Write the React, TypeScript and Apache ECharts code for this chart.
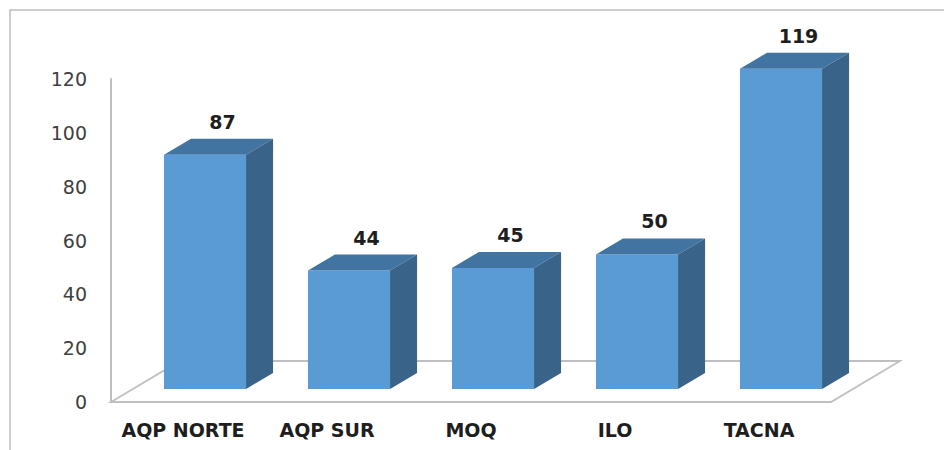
import React, { useEffect, useRef } from "react";
import * as echarts from "echarts";

const categories = ["AQP NORTE", "AQP SUR", "MOQ", "ILO", "TACNA"];
const values = [87, 44, 45, 50, 119];
const yTicks = { min: 0, max: 120, interval: 20 };

const FRONT = "#5B9BD5";
const TOP = "#4274A2";
const SIDE = "#3A6389";
const FLOOR = "#BFBFBF";

// depth geometry (pixels)
const FLOOR_DX = 69;
const FLOOR_DY = -41;
const BAR_SHIFT_X = 22;
const BAR_SHIFT_Y = -13;
const BAR_DX = 27;
const BAR_DY = -16;

export default function App() {
  const ref = useRef<HTMLDivElement>(null);
  useEffect(() => {
    if (!ref.current) return;
    const chart = echarts.init(ref.current, undefined, { renderer: "svg" });
    const option: any = {
      animation: false,
      backgroundColor: "#ffffff",
      graphic: [
        {
          type: "rect",
          shape: { x: 10, y: 10, width: 1000, height: 500 },
          style: { fill: "none", stroke: "#BDBDBD", lineWidth: 1.5 },
          silent: true,
        },
      ],
      grid: { left: 111, right: 113, top: 79, bottom: 48, containLabel: false },
      xAxis: {
        type: "category",
        data: categories,
        axisLine: { show: false },
        axisTick: { show: false },
        axisLabel: {
          interval: 0,
          margin: 18,
          fontFamily: "DejaVu Sans",
          fontWeight: "bold",
          fontSize: 19,
          color: "#1E1E1E",
        },
      },
      yAxis: {
        type: "value",
        min: yTicks.min,
        max: yTicks.max,
        interval: yTicks.interval,
        splitLine: { show: false },
        axisTick: { show: false },
        axisLine: { show: true, lineStyle: { color: FLOOR, width: 2 } },
        axisLabel: {
          margin: 24,
          fontFamily: "DejaVu Sans",
          fontSize: 19,
          color: "#404040",
        },
      },
      series: [
        {
          type: "custom",
          silent: true,
          z: 1,
          data: [[0, 0]],
          encode: { x: 0, y: 1 },
          renderItem: (params: any, api: any) => {
            const bw = api.size([1, 0])[0];
            const a = api.coord([0, 0]);
            const b = api.coord([categories.length - 1, 0]);
            const xl = a[0] - bw / 2;
            const xr = b[0] + bw / 2;
            const y = a[1];
            return {
              type: "polygon",
              shape: {
                points: [
                  [xl, y],
                  [xr, y],
                  [xr + FLOOR_DX, y + FLOOR_DY],
                  [xl + FLOOR_DX, y + FLOOR_DY],
                ],
              },
              style: { fill: "#ffffff", stroke: FLOOR, lineWidth: 1.8 },
            };
          },
        },
        {
          type: "custom",
          z: 2,
          data: values.map((v, i) => [i, v]),
          encode: { x: 0, y: 1 },
          renderItem: (params: any, api: any) => {
            const idx = api.value(0);
            const val = api.value(1);
            const bw = api.size([1, 0])[0];
            const w = bw * 0.57;
            const c0 = api.coord([idx, 0]);
            const c1 = api.coord([idx, val]);
            const cx = c0[0] + BAR_SHIFT_X;
            const x0 = cx - w / 2;
            const x1 = cx + w / 2;
            const yb = c0[1] + BAR_SHIFT_Y;
            const yt = c1[1] + BAR_SHIFT_Y;
            return {
              type: "group",
              children: [
                {
                  type: "polygon",
                  shape: { points: [[x0, yt], [x1, yt], [x1, yb], [x0, yb]] },
                  style: { fill: FRONT },
                },
                {
                  type: "polygon",
                  shape: {
                    points: [
                      [x0, yt],
                      [x0 + BAR_DX, yt + BAR_DY],
                      [x1 + BAR_DX, yt + BAR_DY],
                      [x1, yt],
                    ],
                  },
                  style: { fill: TOP },
                },
                {
                  type: "polygon",
                  shape: {
                    points: [
                      [x1, yt],
                      [x1 + BAR_DX, yt + BAR_DY],
                      [x1 + BAR_DX, yb + BAR_DY],
                      [x1, yb],
                    ],
                  },
                  style: { fill: SIDE },
                },
                {
                  type: "text",
                  x: cx + BAR_DX / 2 + 4,
                  y: yt + BAR_DY - 17,
                  style: {
                    text: String(val),
                    fill: "#1E1E1E",
                    font: "bold 19px 'DejaVu Sans'",
                    align: "center",
                    verticalAlign: "middle",
                  },
                },
              ],
            };
          },
        },
      ],
    };
    chart.setOption(option);
    return () => chart.dispose();
  }, []);
  return (
    <div
      ref={ref}
      style={{ position: "fixed", left: 0, top: 0, width: 944, height: 450 }}
    />
  );
}
